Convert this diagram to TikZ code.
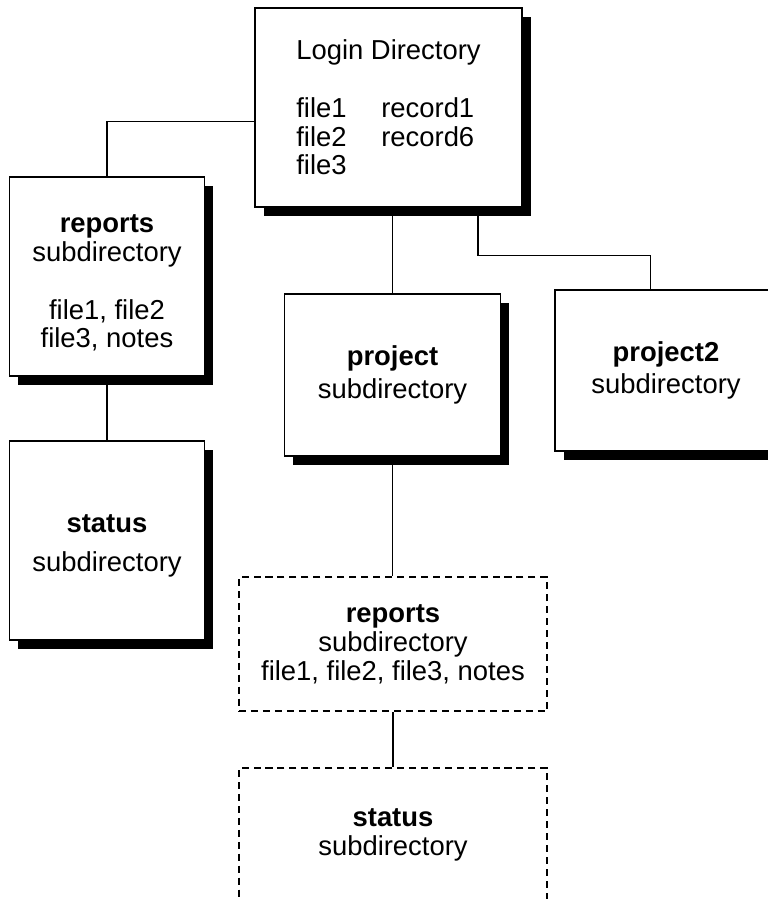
\documentclass[tikz,border=0pt]{standalone}
\usepackage{fontspec}
\setmainfont{Liberation Sans}
\usepackage{tikz}
\usetikzlibrary{positioning, calc, shadows}
\tikzset{
  dirbox/.style={draw=black, line width=0.7pt, fill=white, align=center, inner sep=0pt,
    font=\fontsize{15.6}{16.4}\selectfont,
    drop shadow={shadow xshift=0.17cm, shadow yshift=-0.17cm, fill=black, opacity=1}},
  dirtext/.style={align=center, inner sep=0pt, font=\fontsize{15.6}{16.4}\selectfont},
  dashbox/.style={draw=black, line width=1.3pt, dash pattern=on 4pt off 2.8pt, fill=white,
    align=center, inner sep=0pt, font=\fontsize{15.6}{16.4}\selectfont},
  link/.style={draw=black, line width=0.6pt}
}

\begin{document}
\begin{tikzpicture}
  \useasboundingbox (0, 0) rectangle (15.36, -17.98);

  % Login directory
  \node[dirbox, minimum width=5.34cm, minimum height=3.98cm, align=left] (login) at (7.77, -2.15) {
    Login Directory\\[16.4pt]
    \makebox[1.7cm][l]{file1}record1\\
    \makebox[1.7cm][l]{file2}record6\\
    file3
  };

  % Subdirectories with shadow
  \node[dirbox, minimum width=3.89cm, minimum height=3.98cm] (reports) at (2.14, -5.53) {};
  \node[dirtext] (reportstext) at ($(reports)+(0,-0.13)$) {
    \textbf{reports}\\subdirectory\\[16.4pt]file1, file2\\file3, notes
  };
  \node[dirbox, minimum width=3.89cm, minimum height=3.98cm] (status) at (2.14, -10.81) {};
  \node[dirtext] (statustext) at ($(status)+(0,-0.11)$) {
    \textbf{status}\\[0.2cm]subdirectory
  };
  \node[dirbox, minimum width=4.31cm, minimum height=3.24cm] (project) at (7.85, -7.50) {
    \textbf{project}\\[2pt]subdirectory
  };
  \node[dirbox, minimum width=4.44cm, minimum height=3.22cm] (project2) at (13.32, -7.41) {
    \textbf{project2}\\[2pt]subdirectory
  };

  % Dashed subdirectories
  \node[dashbox, minimum width=6.16cm, minimum height=2.69cm] (dreports) at (7.86, -12.88) {
    \textbf{reports}\\subdirectory\\file1, file2, file3, notes
  };
  \node[dashbox, minimum width=6.16cm, minimum height=2.69cm] (dstatus) at (7.86, -16.70) {
    \textbf{status}\\subdirectory
  };

  % Connectors
  \draw[link] ($(login.west)+(0,-0.28)$) -| (reports.north);
  \draw[link] (reports.south) -- (status.north);
  \draw[link] (project.north) -- (project.north |- login.south);
  \draw[link] ($(login.south)+(1.79,0)$) |- ($(project2.north)+(-0.31,0.68)$) -- ($(project2.north)+(-0.31,0)$);
  \draw[link] (project.south) -- (project.south |- dreports.north);
  \draw[link] (dreports.south) -- (dstatus.north);
\end{tikzpicture}
\end{document}
